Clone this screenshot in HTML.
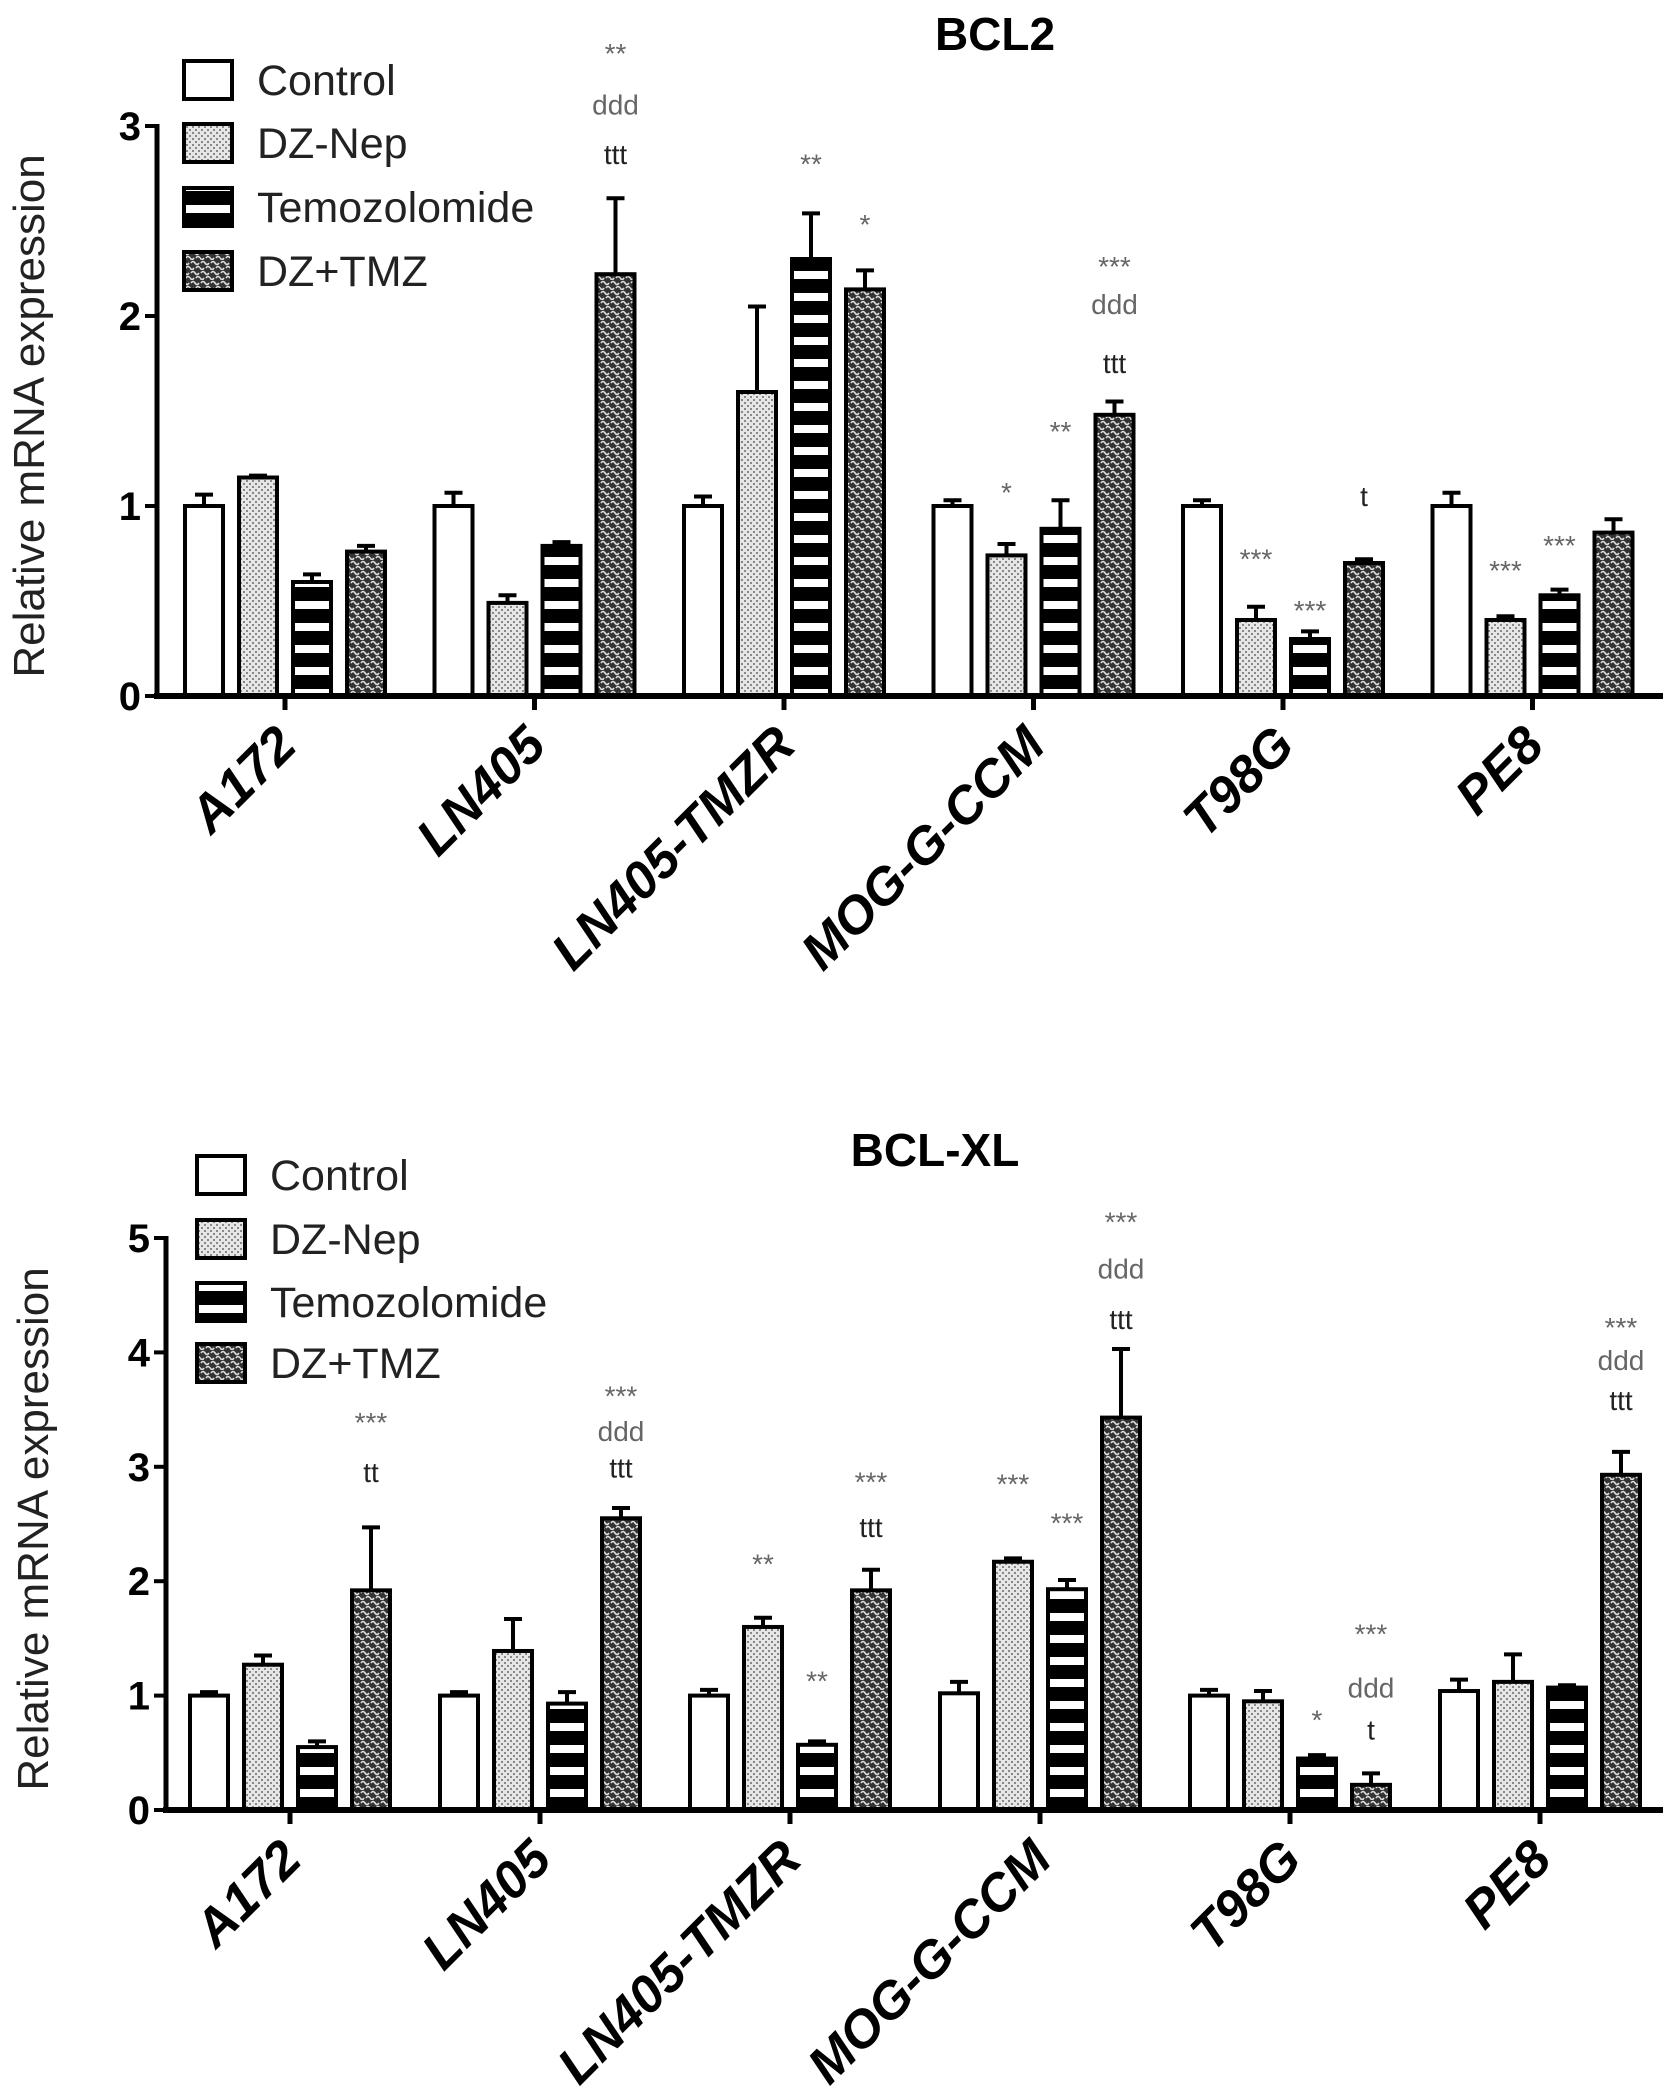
<!DOCTYPE html>
<html><head><meta charset="utf-8"><style>
html,body{margin:0;padding:0;background:#fff}
svg{display:block;font-family:"Liberation Sans",Arial,sans-serif}
</style></head><body>
<svg id="fig" width="1677" height="2094" viewBox="0 0 1677 2094" xmlns="http://www.w3.org/2000/svg">
<defs>
<pattern id="pDots" width="6" height="6" patternUnits="userSpaceOnUse"><rect width="6" height="6" fill="#e6e6e6"/><rect x="0" y="0" width="2" height="2" fill="#888"/><rect x="3" y="3" width="2" height="2" fill="#888"/></pattern>
<pattern id="pStripe" width="10" height="22" patternUnits="userSpaceOnUse"><rect width="10" height="22" fill="#000"/><rect y="7" width="10" height="8" fill="#fff"/></pattern>
<pattern id="pDark" width="10" height="10" patternUnits="userSpaceOnUse"><rect width="10" height="10" fill="#333"/><path d="M1 3 Q3 0 5 3 Q7 6 9 3" stroke="#ddd" stroke-width="1.6" fill="none"/><path d="M-4 8 Q-2 5 0 8 Q2 11 4 8" stroke="#ddd" stroke-width="1.6" fill="none"/><path d="M6 8 Q8 5 10 8" stroke="#ddd" stroke-width="1.6" fill="none"/></pattern>
</defs>
</svg>
<script>
const cellLines = ["A172","LN405","LN405-TMZR","MOG-G-CCM","T98G","PE8"];
const seriesNames = ["Control","DZ-Nep","Temozolomide","DZ+TMZ"];
// BCL2
const bcl2Control = [1.0,1.0,1.0,1.0,1.0,1.0];
const bcl2ControlErr = [0.06,0.07,0.05,0.03,0.03,0.07];
const bcl2DZ = [1.15,0.49,1.6,0.74,0.4,0.4];
const bcl2DZErr = [0.01,0.04,0.45,0.06,0.07,0.02];
const bcl2TMZ = [0.6,0.79,2.3,0.88,0.3,0.53];
const bcl2TMZErr = [0.04,0.02,0.24,0.15,0.04,0.03];
const bcl2DZTMZ = [0.76,2.22,2.14,1.48,0.7,0.86];
const bcl2DZTMZErr = [0.03,0.4,0.1,0.07,0.02,0.07];
const bcl2Ticks = [0,1,2,3];
// annotations: [group, series, value-position, text]
const bcl2Annot = [[1,3,3.37,"**"],[1,3,3.1,"ddd"],[1,3,2.84,"ttt"],[2,2,2.79,"**"],[2,3,2.47,"*"],
 [3,1,1.06,"*"],[3,2,1.38,"**"],[3,3,2.25,"***"],[3,3,2.05,"ddd"],[3,3,1.74,"ttt"],
 [4,1,0.71,"***"],[4,2,0.44,"***"],[4,3,1.04,"t"],[5,1,0.65,"***"],[5,2,0.78,"***"]];
// BCL-XL
const bclxlControl = [1.0,1.0,1.0,1.02,1.0,1.04];
const bclxlControlErr = [0.03,0.03,0.05,0.1,0.05,0.1];
const bclxlDZ = [1.27,1.39,1.6,2.17,0.95,1.12];
const bclxlDZErr = [0.08,0.28,0.08,0.03,0.09,0.24];
const bclxlTMZ = [0.55,0.93,0.57,1.93,0.45,1.07];
const bclxlTMZErr = [0.05,0.1,0.03,0.08,0.03,0.02];
const bclxlDZTMZ = [1.92,2.55,1.92,3.43,0.22,2.93];
const bclxlDZTMZErr = [0.55,0.09,0.18,0.6,0.1,0.2];
const bclxlTicks = [0,1,2,3,4,5];
const bclxlAnnot = [[0,3,3.37,"***"],[0,3,2.93,"tt"],[1,3,3.6,"***"],[1,3,3.29,"ddd"],[1,3,2.97,"ttt"],
 [2,1,2.13,"**"],[2,2,1.11,"**"],[2,3,2.85,"***"],[2,3,2.45,"ttt"],
 [3,1,2.83,"***"],[3,2,2.49,"***"],[3,3,5.12,"***"],[3,3,4.71,"ddd"],[3,3,4.27,"ttt"],
 [4,2,0.77,"*"],[4,3,1.52,"***"],[4,3,1.05,"ddd"],[4,3,0.68,"t"],
 [5,3,4.2,"***"],[5,3,3.91,"ddd"],[5,3,3.56,"ttt"]];

const NS="http://www.w3.org/2000/svg";
const svg=document.getElementById('fig');
const fills=["#fff","url(#pDots)","url(#pStripe)","url(#pDark)"];
const keys=["control","dz-nep","temozolomide","dz-tmz"];
function mk(tag,attrs,parent){const e=document.createElementNS(NS,tag);for(const k in attrs)e.setAttribute(k,attrs[k]);(parent||svg).appendChild(e);return e;}

function drawChart(cfg){
  const g=mk('g',{});
  
  
  const yS=v=>cfg.y0-(v/cfg.ymax)*(cfg.y0-cfg.yTop);
  const xG=i=>cfg.gx0+i*cfg.gstep;
  const off=[-81,-27,27,81], bw=38;
  const t=mk('text',{x:cfg.titleX,y:cfg.titleY,'font-size':46,'font-weight':'bold','text-anchor':'middle'},g);
  t.textContent=cfg.title;
  
  
  const yl=mk('text',{x:0,y:0,'font-size':44,'text-anchor':'middle',fill:'#222',transform:`translate(${cfg.ylabX},${(cfg.y0+cfg.yTop)/2+5}) rotate(-90)`},g);
  yl.textContent="Relative mRNA expression";
  
  
  cfg.series.forEach((vals,s)=>{
    vals.forEach((v,i)=>{
      const cx=xG(i)+off[s], top=yS(v), et=yS(v+cfg.errs[s][i]);
      const eb=mk('line',{x1:cx,x2:cx,y1:top,y2:et,stroke:'#000','stroke-width':4},g);
      
      
      mk('line',{x1:cx-9,x2:cx+9,y1:et,y2:et,stroke:'#000','stroke-width':4},g);
      const r=mk('rect',{x:cx-bw/2,y:top,width:bw,height:cfg.y0-top,fill:fills[s],stroke:'#000','stroke-width':4},g);
      
      
    });
  });
  cfg.annot.forEach(a=>{
    const tx=mk('text',{x:xG(a[0])+off[a[1]],y:yS(a[2]),'font-size':28,'text-anchor':'middle',fill:a[3][0]==='t'?'#222':'#666','dominant-baseline':'middle'},g);
    tx.textContent=a[3];
    
    
  });
  const ya=mk('line',{x1:cfg.ax,x2:cfg.ax,y1:cfg.yTop-2,y2:cfg.y0+3,stroke:'#000','stroke-width':5},g);
  
  
  const xa=mk('line',{x1:cfg.ax-3,x2:1663,y1:cfg.y0,y2:cfg.y0,stroke:'#000','stroke-width':6},g);
  
  
  cfg.ticks.forEach(v=>{
    mk('line',{x1:cfg.ax-12,x2:cfg.ax,y1:yS(v),y2:yS(v),stroke:'#000','stroke-width':4},g);
    const tl=mk('text',{x:cfg.ax-16,y:yS(v)+14,'font-size':40,'font-weight':'bold','text-anchor':'end'},g);
    tl.textContent=v;
    
    
  });
  cellLines.forEach((c,i)=>{
    mk('line',{x1:xG(i),x2:xG(i),y1:cfg.y0,y2:cfg.y0+14,stroke:'#000','stroke-width':5},g);
    const xl=mk('text',{x:0,y:0,'font-size':52,'font-weight':'bold','font-style':'italic','text-anchor':'end',transform:`translate(${xG(i)+14},${cfg.y0+52}) rotate(-45)`},g);
    xl.textContent=c;
    
    
  });
  seriesNames.forEach((n,s)=>{
    const cy=cfg.legY[s];
    const lb=mk('rect',{x:cfg.legX,y:cy-19,width:48,height:38,fill:fills[s],stroke:'#000','stroke-width':4},g);
    
    
    const lt=mk('text',{x:cfg.legX+73,y:cy+15,'font-size':43,fill:'#222'},g);
    lt.textContent=n;
    
    
  });
}
drawChart({id:'bcl2',title:'BCL2',titleX:995,titleY:50,ylabX:44,y0:696,yTop:126,ymax:3,ax:157,gx0:285,gstep:249.5,
  series:[bcl2Control,bcl2DZ,bcl2TMZ,bcl2DZTMZ],errs:[bcl2ControlErr,bcl2DZErr,bcl2TMZErr,bcl2DZTMZErr],
  ticks:bcl2Ticks,annot:bcl2Annot,legX:184,legY:[80,143,207,271]});
drawChart({id:'bcl-xl',title:'BCL-XL',titleX:935,titleY:1166,ylabX:48,y0:1810,yTop:1238,ymax:5,ax:166,gx0:290,gstep:250,
  series:[bclxlControl,bclxlDZ,bclxlTMZ,bclxlDZTMZ],errs:[bclxlControlErr,bclxlDZErr,bclxlTMZErr,bclxlDZTMZErr],
  ticks:bclxlTicks,annot:bclxlAnnot,legX:197,legY:[1175,1239,1302,1363]});
</script>
</body></html>
